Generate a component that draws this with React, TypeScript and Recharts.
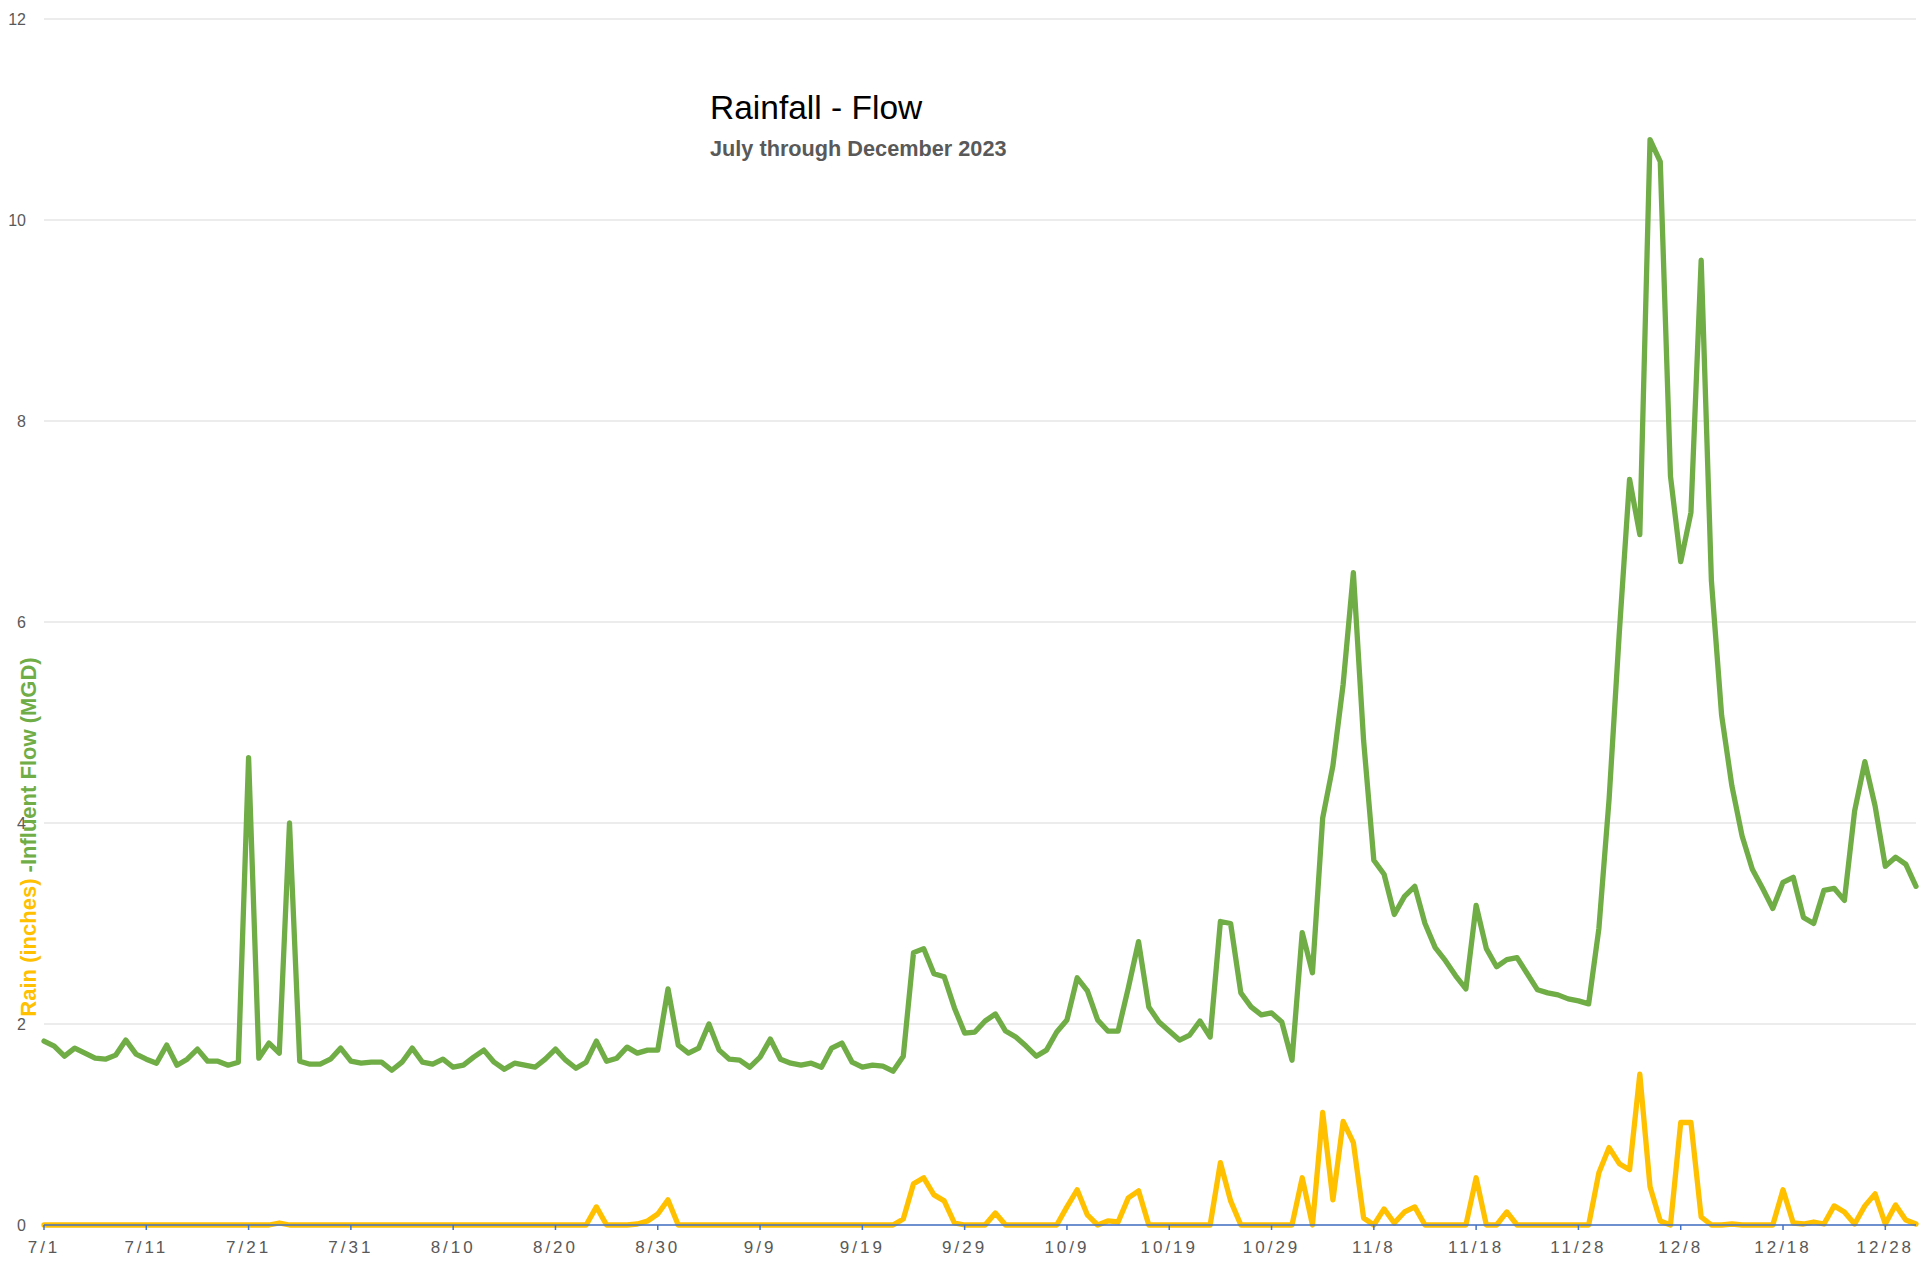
import React from 'react';
import { LineChart, Line, XAxis, YAxis, CartesianGrid } from 'recharts';

const MONTHS = [7, 8, 9, 10, 11, 12];
const MONTH_DAYS = [31, 31, 30, 31, 30, 31];

const FLOW_JUL = [
  1.83, 1.78, 1.68, 1.76, 1.71, 1.66, 1.65, 1.69, 1.84, 1.70,
  1.65, 1.61, 1.79, 1.59, 1.65, 1.75, 1.63, 1.63, 1.59, 1.62,
  4.65, 1.66, 1.81, 1.71, 4.00, 1.63, 1.60, 1.60, 1.65, 1.76,
  1.63,
];
const FLOW_AUG = [
  1.61, 1.62, 1.62, 1.54, 1.62, 1.76, 1.62, 1.60, 1.65, 1.57,
  1.59, 1.67, 1.74, 1.62, 1.55, 1.61, 1.59, 1.57, 1.65, 1.75,
  1.64, 1.56, 1.62, 1.83, 1.63, 1.66, 1.77, 1.71, 1.74, 1.74,
  2.35,
];
const FLOW_SEP = [
  1.79, 1.71, 1.76, 2.00, 1.74, 1.65, 1.64, 1.57, 1.67, 1.85,
  1.65, 1.61, 1.59, 1.61, 1.57, 1.76, 1.81, 1.62, 1.57, 1.59,
  1.58, 1.53, 1.68, 2.71, 2.75, 2.50, 2.47, 2.16, 1.91, 1.92,
];
const FLOW_OCT = [
  2.03, 2.10, 1.93, 1.87, 1.78, 1.68, 1.74, 1.92, 2.04, 2.46,
  2.33, 2.04, 1.93, 1.93, 2.36, 2.82, 2.17, 2.02, 1.93, 1.84,
  1.89, 2.03, 1.87, 3.02, 3.00, 2.31, 2.17, 2.09, 2.11, 2.02,
  1.64,
];
const FLOW_NOV = [
  2.91, 2.51, 4.05, 4.57, 5.38, 6.49, 4.82, 3.63, 3.49, 3.09,
  3.27, 3.37, 3.00, 2.76, 2.63, 2.48, 2.35, 3.18, 2.75, 2.57,
  2.64, 2.66, 2.50, 2.34, 2.31, 2.29, 2.25, 2.23, 2.20, 2.95,
];
const FLOW_DEC = [
  4.24, 5.90, 7.42, 6.87, 10.80, 10.58, 7.45, 6.60, 7.09, 9.60,
  6.41, 5.07, 4.37, 3.87, 3.54, 3.35, 3.15, 3.41, 3.46, 3.06,
  3.00, 3.33, 3.35, 3.23, 4.12, 4.61, 4.17, 3.57, 3.66, 3.59,
  3.37,
];

const RAIN_JUL = [
  0, 0, 0, 0, 0, 0, 0, 0, 0, 0,
  0, 0, 0, 0, 0, 0, 0, 0, 0, 0,
  0, 0, 0, 0.02, 0, 0, 0, 0, 0, 0,
  0,
];
const RAIN_AUG = [
  0, 0, 0, 0, 0, 0, 0, 0, 0, 0,
  0, 0, 0, 0, 0, 0, 0, 0, 0, 0,
  0, 0, 0, 0.18, 0, 0, 0, 0.01, 0.04, 0.11,
  0.25,
];
const RAIN_SEP = [
  0, 0, 0, 0, 0, 0, 0, 0, 0, 0,
  0, 0, 0, 0, 0, 0, 0, 0, 0, 0,
  0, 0, 0.06, 0.41, 0.47, 0.30, 0.24, 0.02, 0, 0,
];
const RAIN_OCT = [
  0, 0.12, 0, 0, 0, 0, 0, 0, 0.18, 0.35,
  0.10, 0, 0.04, 0.03, 0.27, 0.34, 0, 0, 0, 0,
  0, 0, 0, 0.62, 0.24, 0, 0, 0, 0, 0,
  0,
];
const RAIN_NOV = [
  0.47, 0, 1.12, 0.25, 1.03, 0.82, 0.07, 0, 0.16, 0.02,
  0.13, 0.18, 0, 0, 0, 0, 0, 0.47, 0, 0,
  0.13, 0, 0, 0, 0, 0, 0, 0, 0, 0.52,
];
const RAIN_DEC = [
  0.77, 0.61, 0.55, 1.50, 0.38, 0.04, 0, 1.02, 1.02, 0.08,
  0, 0, 0.01, 0, 0, 0, 0, 0.35, 0.02, 0.01,
  0.03, 0.01, 0.19, 0.13, 0.01, 0.19, 0.31, 0.01, 0.20, 0.05,
  0.01,
];

const X_TICKS = [
  '7/1', '7/11', '7/21', '7/31', '8/10', '8/20', '8/30', '9/9', '9/19', '9/29',
  '10/9', '10/19', '10/29', '11/8', '11/18', '11/28', '12/8', '12/18', '12/28',
];
const Y_TICKS = [0, 2, 4, 6, 8, 10, 12];

const TITLE = 'Rainfall - Flow';
const SUBTITLE = 'July through December 2023';

const FLOW = [...FLOW_JUL, ...FLOW_AUG, ...FLOW_SEP, ...FLOW_OCT, ...FLOW_NOV, ...FLOW_DEC];
const RAIN = [...RAIN_JUL, ...RAIN_AUG, ...RAIN_SEP, ...RAIN_OCT, ...RAIN_NOV, ...RAIN_DEC];

const DATES: string[] = [];
MONTHS.forEach((m, i) => {
  for (let d = 1; d <= MONTH_DAYS[i]; d++) DATES.push(`${m}/${d}`);
});

const data = DATES.map((date, i) => ({ date, flow: FLOW[i], rain: RAIN[i] }));

const W = 1913;
const H = 1249;

export default function App() {
  return (
    <div style={{ position: 'relative', width: W, height: H, background: '#fff' }}>
      <LineChart
        width={W}
        height={H}
        data={data}
        margin={{ top: 11, right: 5, left: 0, bottom: 0 }}
      >
        <CartesianGrid horizontal vertical={false} stroke="#D9D9D9" strokeWidth={1.2} />
        <XAxis
          dataKey="date"
          ticks={X_TICKS}
          interval={0}
          height={32}
          tickSize={5}
          tickMargin={11}
          axisLine={{ stroke: '#4472C4', strokeWidth: 1.5 }}
          tickLine={{ stroke: '#4472C4', strokeWidth: 1.5 }}
          tick={{ fill: '#595959', fontSize: 17, letterSpacing: 3, fontFamily: 'Liberation Sans, Arial, sans-serif' }}
        />
        <YAxis
          domain={[0, 12]}
          ticks={Y_TICKS}
          width={36}
          axisLine={false}
          tickLine={false}
          tickSize={0}
          tickMargin={18}
          tick={{ fill: '#595959', fontSize: 16, fontFamily: 'Liberation Sans, Arial, sans-serif' }}
        />
        <Line
          type="linear"
          dataKey="flow"
          stroke="#70AD47"
          strokeWidth={5.3}
          dot={false}
          strokeLinejoin="round"
          strokeLinecap="round"
          isAnimationActive={false}
        />
        <Line
          type="linear"
          dataKey="rain"
          stroke="#FFC000"
          strokeWidth={5.3}
          dot={false}
          strokeLinejoin="round"
          strokeLinecap="round"
          isAnimationActive={false}
        />
      </LineChart>
      <div
        style={{
          position: 'absolute',
          left: 702,
          top: 83,
          fontFamily: 'Liberation Sans, Arial, sans-serif',
          fontSize: 33.5,
          color: '#000',
          whiteSpace: 'nowrap',
          lineHeight: 1,
        }}
      >
        {TITLE}
      </div>
      <div
        style={{
          position: 'absolute',
          left: 702,
          top: 130,
          fontFamily: 'Liberation Sans, Arial, sans-serif',
          fontSize: 21.7,
          fontWeight: 'bold',
          color: '#595959',
          whiteSpace: 'nowrap',
          lineHeight: 1,
        }}
      >
        {SUBTITLE}
      </div>
      <div
        style={{
          position: 'absolute',
          left: 21,
          top: 829,
          transform: 'translate(-50%, -50%) rotate(-90deg)',
          fontFamily: 'Liberation Sans, Arial, sans-serif',
          fontSize: 22,
          fontWeight: 'bold',
          whiteSpace: 'nowrap',
          lineHeight: 1,
        }}
      >
        <span style={{ color: '#FFC000' }}>Rain (inches) </span>
        <span style={{ color: '#70AD47' }}>-Influent Flow (MGD)</span>
      </div>
    </div>
  );
}
